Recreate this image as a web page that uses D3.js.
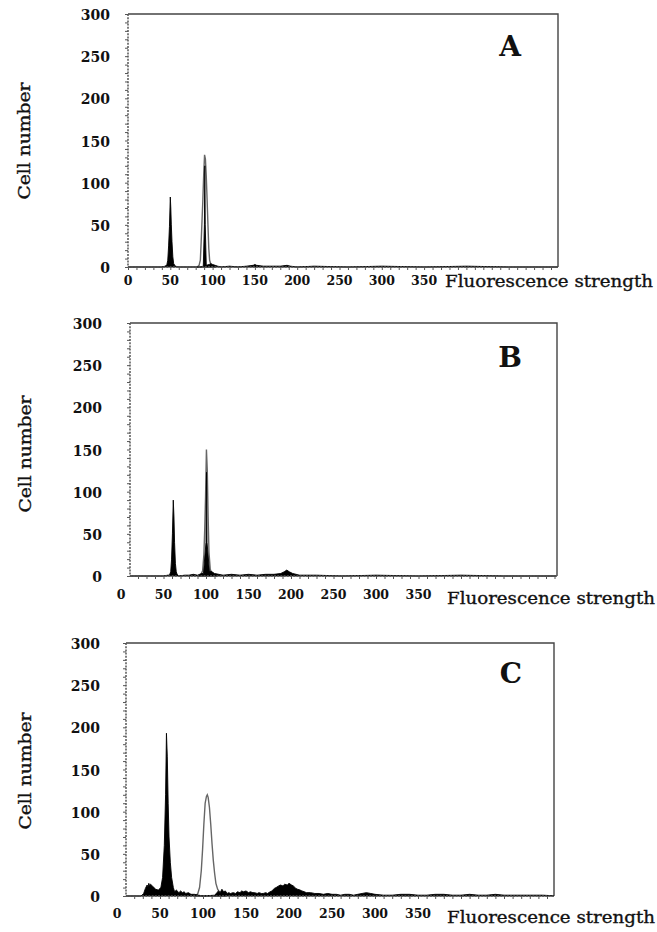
<!DOCTYPE html>
<meta charset="utf-8">
<style>
body { margin: 0; background: #fff; }
text { fill: #111; }
.tick-y { font: bold 14px "DejaVu Serif", serif; }
.tick-x { font: bold 12.5px "DejaVu Serif", serif; }
.title-x, .title-y { font: 17px "DejaVu Serif", serif; stroke: #111; stroke-width: 0.35; }
.letter { font: bold 28px "DejaVu Serif", serif; }
</style>
<body>
<script src="https://cdnjs.cloudflare.com/ajax/libs/d3/7.8.5/d3.min.js"></script>
<script>
// tick values and names
var yTicks = [0, 50, 100, 150, 200, 250, 300];
var xTicks = [0, 50, 100, 150, 200, 250, 300, 350];
var panelNames = ["A", "B", "C"];

// histograms: [fluorescence, cell number]
var blackA = [[0,0],[40,0],[44,1],[46,3],[47,8],[48,25],[49,48],[50,83],[50.6,70],[51.2,50],[52,30],[53,12],[54,4],[56,1],[60,0],[70,0],[80,0],[86,0],[89,1],[90.3,50],[90.8,120],[91.3,50],[92.5,2],[96,3],[98,4],[100,3],[103,2],[106,1],[110,0],[120,1],[130,0],[140,1],[148,2],[150,3],[152,2],[160,1],[170,1],[180,1],[188,2],[192,1],[200,0],[220,1],[260,0],[300,1],[350,0],[400,1],[450,0],[512,0]];
var grayA = [[82,0],[84,2],[85.5,8],[86.5,30],[87.5,55],[88.5,80],[89.5,110],[90.5,133],[91.5,128],[92.5,108],[93.5,80],[94.5,50],[95.5,22],[96.5,8],[98,3],[101,1],[104,0]];

var blackB = [[0,0],[50,0],[55,1],[57,1],[58.5,5],[59.5,20],[60.5,50],[61.5,90],[62.3,70],[63,40],[64,15],[65,5],[66,2],[68,0],[75,1],[80,1],[85,2],[90,1],[95,3],[97,3],[100,40],[100.6,123],[101.2,40],[104,6],[107,5],[110,3],[115,2],[120,1],[130,2],[140,1],[150,2],[160,1],[170,2],[180,2],[188,3],[192,5],[195,7],[198,5],[202,3],[210,1],[230,1],[260,0],[300,1],[350,0],[400,1],[450,0],[512,0]];
var grayB = [[92,0],[94,2],[96,6],[97.5,25],[98.5,55],[99.5,95],[100.5,150],[101.5,125],[102.5,70],[103.5,28],[105,8],[107,3],[110,1],[113,0]];

var blackC = [[0,0],[28,0],[31,3],[33,9],[35,13],[36,11],[37,15],[38,12],[39,14],[41,12],[43,10],[45,8],[48,7],[51,10],[53,22],[55,60],[56.5,120],[57.5,193],[58.5,165],[59.5,110],[60.5,70],[62,40],[63.5,22],[65.5,10],[67,5],[69,7],[72,4],[74,6],[76,4],[78,5],[80,3],[83,4],[86,2],[90,2],[95,1],[100,0],[114,1],[116,4],[118,6],[120,4],[122,8],[124,5],[126,6],[128,3],[130,4],[132,3],[135,4],[138,3],[140,5],[143,4],[145,6],[147,5],[150,6],[153,4],[155,5],[158,4],[160,4],[163,3],[165,4],[168,3],[170,3],[173,4],[175,3],[178,5],[180,6],[183,9],[185,10],[188,12],[190,13],[193,12],[195,14],[198,13],[200,15],[203,13],[205,12],[208,9],[210,8],[213,7],[215,6],[218,5],[220,4],[225,4],[230,3],[235,3],[240,2],[245,3],[250,2],[255,2],[260,1],[265,2],[270,2],[275,1],[280,2],[285,3],[290,4],[295,3],[300,2],[310,1],[320,1],[330,2],[340,2],[350,1],[360,1],[370,2],[380,2],[390,1],[400,1],[410,2],[420,1],[430,1],[440,2],[450,1],[460,1],[470,1],[480,1],[495,1],[512,0]];
var grayC = [[92,0],[94,3],[96,10],[98,30],[99.5,55],[101,85],[102.5,110],[104,118],[105,120],[106,117],[107.5,105],[109,85],[110.5,62],[112,42],[113.5,27],[115,15],[117,8],[119,5],[122,3],[125,0]];

var blackSeries = [blackA, blackB, blackC];
var graySeries = [grayA, grayB, grayC];

// page layout for each panel
var layout = [
  {left: 128, right: 558, top: 14, bottom: 267, x0: 128, k: 0.846, ylabR: 110, cellX: 24, cellY: 141, tickY: 280, fluoX: 445, fluoY: 282, lx: 510, ly: 46},
  {left: 130, right: 557, top: 323, bottom: 576, x0: 121, k: 0.85, ylabR: 102, cellX: 25, cellY: 454, tickY: 594, fluoX: 447, fluoY: 599, lx: 510, ly: 357},
  {left: 126, right: 554, top: 643, bottom: 896, x0: 117, k: 0.86, ylabR: 100, cellX: 25, cellY: 771, tickY: 913, fluoX: 447, fluoY: 918, lx: 511, ly: 673}
];

var svg = d3.select("body").append("svg")
    .attr("width", 657)
    .attr("height", 932);

layout.forEach(function(p, i) {
  var x = d3.scaleLinear().domain([0, 512]).range([p.x0, p.x0 + 512 * p.k]);
  var y = d3.scaleLinear().domain([0, 300]).range([p.bottom, p.top]);
  var g = svg.append("g");

  // frame: solid top and right
  g.append("path")
      .attr("d", "M" + p.left + "," + p.top + "H" + p.right + "V" + p.bottom)
      .attr("fill", "none")
      .attr("stroke", "#444")
      .attr("stroke-width", 1.4);

  // clip
  g.append("clipPath").attr("id", "clip" + i)
    .append("rect")
      .attr("x", p.left).attr("y", p.top)
      .attr("width", p.right - p.left).attr("height", p.bottom - p.top + 1);

  var area = d3.area()
      .x(function(d) { return x(d[0]); })
      .y0(y(0))
      .y1(function(d) { return y(d[1]); });

  var plot = g.append("g").attr("clip-path", "url(#clip" + i + ")");
  plot.append("path")
      .datum(graySeries[i])
      .attr("d", area)
      .attr("fill", "#fff")
      .attr("stroke", "#666")
      .attr("stroke-width", 1.4);
  plot.append("path")
      .datum(blackSeries[i])
      .attr("d", area)
      .attr("fill", "#000")
      .attr("stroke", "#000")
      .attr("stroke-width", 0.9);

  // dotted axis lines with small ticks
  g.append("line")
      .attr("x1", p.left).attr("x2", p.left)
      .attr("y1", p.top).attr("y2", p.bottom)
      .attr("stroke", "#555").attr("stroke-width", 1.5)
      .attr("stroke-dasharray", "2,1.2");
  g.append("line")
      .attr("x1", p.left).attr("x2", p.right)
      .attr("y1", p.bottom).attr("y2", p.bottom)
      .attr("stroke", "#555").attr("stroke-width", 1.5)
      .attr("stroke-dasharray", "2,1.2");

  var yMinor = d3.axisLeft(y).ticks(30).tickSize(3).tickFormat("");
  g.append("g")
      .attr("transform", "translate(" + p.left + ",0)")
      .call(yMinor)
      .call(function(s) {
        s.select(".domain").remove();
        s.selectAll("line").attr("stroke", "#555");
      });

  var xs = d3.scaleLinear()
      .domain([x.invert(p.left), x.invert(p.right)])
      .range([p.left, p.right]);
  var xMinor = d3.axisBottom(xs).ticks(50).tickSize(3).tickFormat("");
  g.append("g")
      .attr("transform", "translate(0," + p.bottom + ")")
      .call(xMinor)
      .call(function(s) {
        s.select(".domain").remove();
        s.selectAll("line").attr("stroke", "#555");
      });

  // tick labels
  g.selectAll(".tick-y")
      .data(yTicks)
    .enter().append("text")
      .attr("class", "tick-y")
      .attr("x", p.ylabR)
      .attr("y", function(d) { return y(d) + 6; })
      .attr("text-anchor", "end")
      .text(function(d) { return d; });

  g.selectAll(".tick-x")
      .data(xTicks)
    .enter().append("text")
      .attr("class", "tick-x")
      .attr("x", function(d) { return x(d); })
      .attr("y", p.tickY + 5)
      .attr("text-anchor", "middle")
      .text(function(d) { return d; });

  g.append("text")
      .attr("class", "title-x")
      .attr("x", p.fluoX)
      .attr("y", p.fluoY + 5)
      .attr("textLength", 208)
      .attr("lengthAdjust", "spacingAndGlyphs")
      .text("Fluorescence strength");

  g.append("text")
      .attr("class", "title-y")
      .attr("transform", "translate(" + (p.cellX + 6) + "," + p.cellY + ") rotate(-90)")
      .attr("text-anchor", "middle")
      .attr("textLength", 117)
      .attr("lengthAdjust", "spacingAndGlyphs")
      .text("Cell number");

  g.append("text")
      .attr("class", "letter")
      .attr("x", p.lx)
      .attr("y", p.ly + 10)
      .attr("text-anchor", "middle")
      .text(panelNames[i]);
});
</script>
</body>
